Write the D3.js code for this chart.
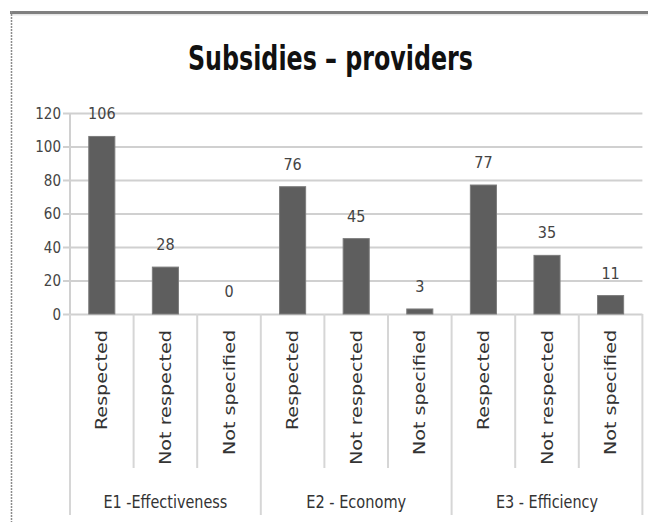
<!DOCTYPE html>
<html>
<head>
<meta charset="utf-8">
<script src="https://cdn.jsdelivr.net/npm/d3@7/dist/d3.min.js"></script>
<style>
  html, body { margin: 0; padding: 0; background: #ffffff; }
  svg { display: block; }
  text { font-family: "Liberation Sans Narrow", "DejaVu Sans Condensed", "Liberation Sans", sans-serif; }
</style>
</head>
<body>
<script>
// Subsidies – providers: counts by criterion group and assessment outcome
const groups = ["E1 -Effectiveness", "E2 - Economy", "E3 - Efficiency"];
const outcomes = ["Respected", "Not respected", "Not specified"];
const e1Values = [106, 28, 0];
const e2Values = [76, 45, 3];
const e3Values = [77, 35, 11];
const yTicks = [0, 20, 40, 60, 80, 100, 120];

const seriesByGroup = [e1Values, e2Values, e3Values];
const rows = [];
groups.forEach((g, gi) => {
  outcomes.forEach((o, oi) => {
    rows.push({ id: gi + "-" + oi, group: g, outcome: o, value: seriesByGroup[gi][oi] });
  });
});

const W = 648, H = 522;
const plot = { left: 70, right: 642.4, top: 113, bottom: 314 };

const svg = d3.select("body").append("svg")
  .attr("width", W).attr("height", H);

// frame: heavy top rule and dotted left edge
svg.append("line").attr("x1", 10).attr("x2", W).attr("y1", 12.5).attr("y2", 12.5)
  .attr("stroke", "#808080").attr("stroke-width", 3);
svg.append("line").attr("x1", 12).attr("x2", W).attr("y1", 14.8).attr("y2", 14.8)
  .attr("stroke", "#e6e6e6").attr("stroke-width", 1.5);
svg.append("line").attr("x1", 11.5).attr("x2", 11.5).attr("y1", 11).attr("y2", H)
  .attr("stroke", "#8c8c8c").attr("stroke-width", 1.5).attr("stroke-dasharray", "2,1");

// title
svg.append("text")
  .attr("x", 330.5).attr("y", 70)
  .attr("text-anchor", "middle")
  .attr("font-size", 33).attr("font-weight", "bold").attr("fill", "#111")
  .attr("textLength", 285).attr("lengthAdjust", "spacingAndGlyphs")
  .text("Subsidies – providers");

const x = d3.scaleBand()
  .domain(rows.map(d => d.id))
  .range([plot.left, plot.right])
  .padding(0);

const y = d3.scaleLinear().domain([0, 120]).range([plot.bottom, plot.top]);

// horizontal gridlines with left tick stubs
const yAxis = d3.axisLeft(y).tickValues(yTicks)
  .tickSize(-(plot.right - plot.left)).tickPadding(9);
const gy = svg.append("g").attr("transform", `translate(${plot.left},0)`).call(yAxis);
gy.select(".domain").remove();
gy.selectAll(".tick line")
  .attr("x1", -7)
  .attr("stroke", "#d0d0d0").attr("stroke-width", 2);
gy.selectAll(".tick text")
  .attr("font-size", 15).attr("fill", "#444")
  .attr("dy", "0.35em");

// vertical axis line
svg.append("line")
  .attr("x1", plot.left).attr("x2", plot.left)
  .attr("y1", plot.top).attr("y2", plot.bottom)
  .attr("stroke", "#d0d0d0").attr("stroke-width", 2);

// bars
const barW = x.bandwidth() * 0.41;
svg.append("g").selectAll("rect").data(rows).join("rect")
  .attr("x", d => x(d.id) + (x.bandwidth() - barW) / 2)
  .attr("y", d => y(d.value))
  .attr("width", barW)
  .attr("height", d => y(0) - y(d.value))
  .attr("fill", "#5e5e5e")
  .attr("stroke", "#7c7c7c").attr("stroke-width", 1);

// value labels
svg.append("g").selectAll("text").data(rows).join("text")
  .attr("x", d => x(d.id) + x.bandwidth() / 2)
  .attr("y", d => y(d.value) - 17)
  .attr("text-anchor", "middle")
  .attr("font-size", 16).attr("fill", "#444")
  .text(d => d.value);

// category axis: dividers between bars, taller ones between groups
const edges = d3.range(rows.length + 1).map(i => plot.left + i * x.bandwidth());
svg.append("g").selectAll("line").data(edges).join("line")
  .attr("x1", d => d).attr("x2", d => d)
  .attr("y1", plot.bottom)
  .attr("y2", (d, i) => (i % 3 === 0 ? 515 : 468))
  .attr("stroke", "#d6d6d6").attr("stroke-width", 2);

// rotated outcome labels
const outcomeLen = { "Respected": 100, "Not respected": 135, "Not specified": 125 };
svg.append("g").selectAll("text").data(rows).join("text")
  .attr("transform", d => `translate(${x(d.id) + x.bandwidth() / 2 + 5.5},330) rotate(-90)`)
  .attr("text-anchor", "end")
  .attr("font-size", 16.5).attr("fill", "#333")
  .attr("textLength", d => outcomeLen[d.outcome])
  .attr("lengthAdjust", "spacingAndGlyphs")
  .text(d => d.outcome);

// group labels
const groupLen = [124, 100, 102];
svg.append("g").selectAll("text").data(groups).join("text")
  .attr("x", (d, i) => (edges[i * 3] + edges[i * 3 + 3]) / 2)
  .attr("y", 508)
  .attr("text-anchor", "middle")
  .attr("font-size", 17).attr("fill", "#333")
  .attr("textLength", (d, i) => groupLen[i])
  .attr("lengthAdjust", "spacingAndGlyphs")
  .text(d => d);
</script>
</body>
</html>
